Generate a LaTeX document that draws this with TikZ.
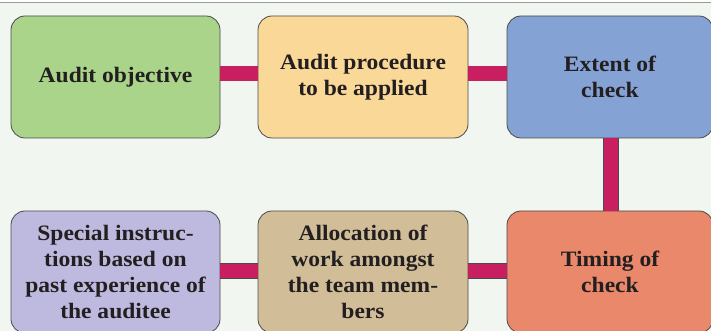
\documentclass[tikz,border=0pt]{standalone}
\usepackage{fontspec}
\setmainfont{Liberation Serif}
\newfontfamily\stagefont{Liberation Serif Bold}[FakeStretch=1.07]
\definecolor{pagebg}{HTML}{F2F6F1}
\definecolor{rulegray}{HTML}{9A9A9A}
\definecolor{edge}{HTML}{4A4A4A}
\definecolor{txt}{HTML}{231F20}
\definecolor{link}{HTML}{C71F60}
\definecolor{cgreen}{HTML}{ABD48B}
\definecolor{cyellow}{HTML}{FAD898}
\definecolor{cblue}{HTML}{85A2D4}
\definecolor{corange}{HTML}{E9886B}
\definecolor{cpurple}{HTML}{BEBADF}
\definecolor{ctan}{HTML}{D1BE98}
\tikzset{
  stage/.style={draw=edge, line width=0.8pt, rounded corners=14pt,
    minimum width=#1, minimum height=122pt, inner sep=0pt,
    text=txt, align=center, font=\stagefont\fontsize{22}{26}\selectfont},
  stage/.default=209pt,
  link/.style={draw=edge, line width=0.7pt, double=link, double distance=14.5pt}
}
\begin{document}
\begin{tikzpicture}[x=1pt,y=1pt]
  \useasboundingbox (0,0) rectangle (711,331);
  \fill[pagebg] (0,0) rectangle (711,331);
  \fill[white] (0,329.3) rectangle (711,331);
  \fill[rulegray] (0,327.6) rectangle (711,329.3);

  % first row of stages
  \node[stage, fill=cgreen]  (obj)  at (115.5,254) {Audit objective};
  \node[stage=210pt, fill=cyellow] (proc) at (363,254) {Audit procedure\\to be applied};
  \node[stage=206pt, fill=cblue]   (ext)  at (610,254) {Extent of\\check};
  % second row of stages
  \node[stage, fill=cpurple] (spec) at (115.5,59) {Special instruc-\\tions based on\\past experience of\\the auditee};
  \node[stage=210pt, fill=ctan]    (alloc) at (363,59) {Allocation of\\work amongst\\the team mem-\\bers};
  \node[stage=206pt, fill=corange] (time) at (610,59) {Timing of\\check};

  % links between stages
  \draw[link] ([yshift=3.5pt]obj.east) -- ([yshift=3.5pt]proc.west);
  \draw[link] ([yshift=3.5pt]proc.east) -- ([yshift=3.5pt]ext.west);
  \draw[link] ([xshift=1pt]ext.south) -- ([xshift=1pt]time.north);
  \draw[link] ([yshift=1pt]spec.east) -- ([yshift=1pt]alloc.west);
  \draw[link] ([yshift=1pt]alloc.east) -- ([yshift=1pt]time.west);
\end{tikzpicture}
\end{document}
